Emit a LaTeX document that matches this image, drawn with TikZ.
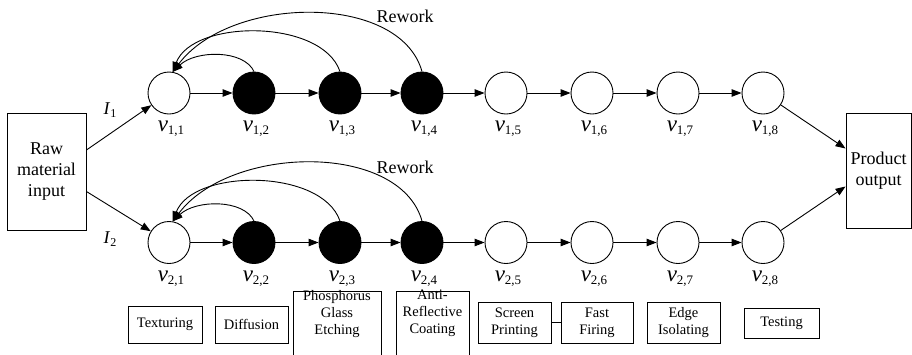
\documentclass[tikz,border=0pt]{standalone}
\usepackage{fontspec}
\setmainfont{Liberation Serif}
\usetikzlibrary{arrows.meta}
\newcommand{\vlab}[2]{{\fontsize{23}{25}\selectfont\textit{v}}\raisebox{-3pt}{\fontsize{13}{13}\selectfont #1,#2}}
\newcommand{\ilab}[1]{{\fontsize{18}{20}\selectfont\textit{I}}\raisebox{-3pt}{\fontsize{12}{12}\selectfont #1}}
\begin{document}
\begin{tikzpicture}[x=1pt,y=-1pt,
  st/.style={circle, draw, minimum size=42pt, inner sep=0pt, line width=0.9pt},
  fst/.style={st, fill=black},
  arr/.style={-{Triangle[length=10pt,width=7.5pt]}, line width=0.9pt},
  big/.style={font=\fontsize{18}{21}\selectfont, align=center},
  bigbox/.style={big, draw, line width=0.9pt, inner sep=0pt},
  task/.style={draw, font=\fontsize{14.5}{17}\selectfont, align=center, line width=0.8pt, inner sep=0pt},
  tasktext/.style={font=\fontsize{14.5}{17}\selectfont, align=center, inner sep=0pt},
  vl/.style={inner sep=0pt, anchor=base}
]
\useasboundingbox (0,0) rectangle (912,354);

% boxes
\node[bigbox, minimum width=79pt, minimum height=117pt] (raw) at (46.5,171.5) {Raw\\material\\input};
\node[bigbox, minimum width=65pt, minimum height=115pt] (out) at (878.5,170.5) {Product\\output};

% row 1
\node[st]  (v11) at (169,93) {};
\node[fst] (v12) at (254,93) {};
\node[fst] (v13) at (340,93) {};
\node[fst] (v14) at (422,93) {};
\node[st]  (v15) at (506,93) {};
\node[st]  (v16) at (592,93) {};
\node[st]  (v17) at (678,93) {};
\node[st]  (v18) at (763,93) {};
% row 2
\node[st]  (v21) at (169,242.5) {};
\node[fst] (v22) at (254,242.5) {};
\node[fst] (v23) at (340,242.5) {};
\node[fst] (v24) at (422,242.5) {};
\node[st]  (v25) at (506,242.5) {};
\node[st]  (v26) at (592,242.5) {};
\node[st]  (v27) at (678,242.5) {};
\node[st]  (v28) at (763,242.5) {};

% labels
\foreach \i/\x in {1/169,2/254,3/340,4/422,5/506,6/592,7/678,8/763}{
  \node[vl] (l1\i) at (\x+2,131) {\vlab{1}{\i}};
  \node[vl] (l2\i) at (\x+2,281) {\vlab{2}{\i}};
}

% chain arrows
\foreach \r in {1,2}{
  \foreach \a/\b in {1/2,2/3,3/4,4/5,5/6,6/7,7/8}{
    \draw[arr] (v\r\a) -- (v\r\b);
  }
  \draw[arr] (v\r2.north) .. controls +(-10,-22) and +(23,-22) .. (v\r1.80);
  \draw[arr] (v\r3.north) .. controls +(-18,-53) and +(20,-53) .. (v\r1.80);
  \draw[arr] (v\r4.north) .. controls +(-22,-79) and +(58,-77) .. (v\r1.80);
}

\node[big, inner sep=0pt] (rw1) at (405,16) {Rework};
\node[big, inner sep=0pt] (rw2) at (405,167) {Rework};

% input / output
\draw[arr] ([yshift=21.5pt]raw.east) -- (v11);
\draw[arr] ([yshift=-20pt]raw.east) -- (v21);
\node[vl] (i1) at (110,114) {\ilab{1}};
\node[vl] (i2) at (110,243) {\ilab{2}};
\draw[arr] (v18) -- ([yshift=22pt]out.west);
\draw[arr] (v28) -- ([yshift=-16pt]out.west);

% task boxes
\node[task, minimum width=74pt, minimum height=37pt] (t1) at (165,324.5) {Texturing};
\node[task, minimum width=73pt, minimum height=37pt] (t2) at (251.5,324.5) {Diffusion};
\node[tasktext] (t3) at (337,314) {Phosphorus\\Glass\\Etching};
\draw[line width=0.8pt] (293,356) |- (381,291) -- (381,356);
\node[tasktext] (t4) at (432.5,313) {Anti-\\Reflective\\Coating};
\draw[line width=0.8pt] (396,356) |- (469,291) -- (469,356);
\node[task, minimum width=73pt, minimum height=41pt] (t5) at (514.5,322.5) {Screen\\Printing};
\node[task, minimum width=72pt, minimum height=41pt] (t6) at (597,322.5) {Fast\\Firing};
\draw[line width=0.8pt] (t5) -- (t6);
\node[task, minimum width=73pt, minimum height=41pt] (t7) at (683.5,322.5) {Edge\\Isolating};
\node[task, minimum width=75pt, minimum height=30pt] (t8) at (781.5,323) {Testing};
\end{tikzpicture}
\end{document}
